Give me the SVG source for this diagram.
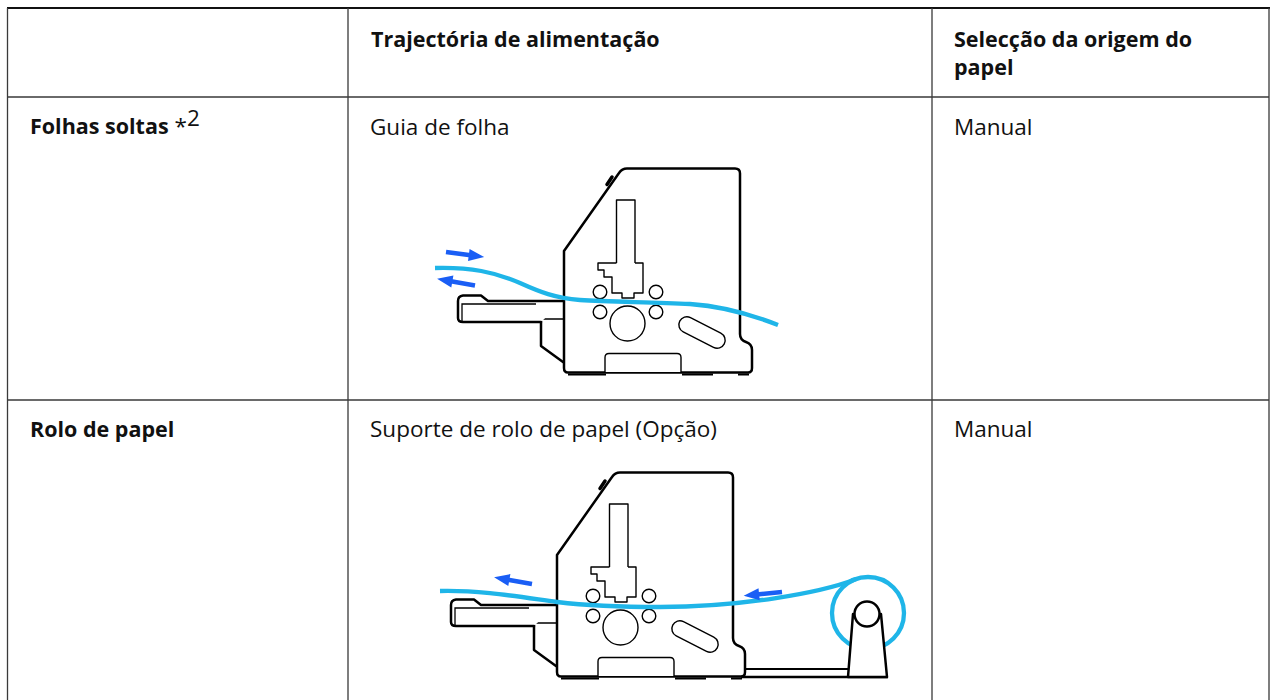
<svg xmlns="http://www.w3.org/2000/svg" width="1273" height="700" viewBox="0 0 1273 700">
<style>
.grid{stroke:#3a3a3a;stroke-width:1.3;fill:none}
.top{stroke:#111;stroke-width:2.2;fill:none}
.b{font-family:"Open Sans","Noto Sans","DejaVu Sans",sans-serif;font-weight:700;font-size:21.5px;fill:#111}
.r{font-family:"Open Sans","Noto Sans","DejaVu Sans",sans-serif;font-weight:400;font-size:22.5px;fill:#111}
.thk{stroke:#000;stroke-width:2.5;fill:#fff;stroke-linejoin:round;stroke-linecap:round}
.thn{stroke:#000;stroke-width:1.4;fill:#fff;stroke-linejoin:round}
.ln{stroke:#000;stroke-width:1.3;fill:none}
.paper{stroke:#1fb5e8;stroke-width:4.3;fill:none;stroke-linecap:butt}
.arr{fill:#1a5ef5}
</style>
<defs>
<path id="arrow" d="M0,-2.3 H23 V-6 L38.5,0 L23,6 V2.3 H0 Z"/>
<g id="printer">
<path class="thk" d="M541 321 V346 L563 362"/>
<path class="ln" d="M536 301 V322 M542 302 V319 H563"/>
<path class="thk" d="M563 301 H488 L481 295.5 H463 Q458 296 458 301 V318 Q458 322 463 322 H541"/>
<path class="ln" d="M536 304 H462 V322"/>
<path class="thk" d="M564 368 V251 L619 173 Q622 168.5 627 168.5 H735 Q740 168.5 740 173.5 V334 Q740 340 746 342 Q752 344 752 350 V368 Q752 372.5 748 372.5 H568 Q564 372.5 564 368 Z"/>
<path d="M612 177 L607 184.5" stroke="#000" stroke-width="3.5" stroke-linecap="round" fill="none"/>
<rect class="thn" x="616.5" y="200" width="18.5" height="83"/>
<polyline class="thn" points="616.5,263 598,263 598,270 604,270 604,277 612,277 612,293 622,293 622,298 634,298 634,293 643,293 643,263 635,263"/>
<circle class="thn" cx="600" cy="292" r="6.8"/>
<circle class="thn" cx="656" cy="292" r="6.8"/>
<circle class="thn" cx="600" cy="312" r="6.8"/>
<circle class="thn" cx="656" cy="312" r="6.8"/>
<circle class="thn" cx="627.5" cy="323.5" r="17.5"/>
<rect class="thn" x="-25" y="-8" width="50" height="16" rx="8" transform="translate(702 332.5) rotate(27)"/>
<path class="thn" d="M605 372 V357.5 Q605 353.5 609 353.5 H677 Q681 353.5 681 357.5 V372" fill="none"/>
<path d="M568 374.5 H606 M682 374.5 H713 M738 374.5 H749" stroke="#000" stroke-width="2" fill="none"/>
</g>
</defs>

<g id="table">
<path class="top" d="M7 8 H1270"/>
<path class="grid" d="M7.5 8 V700 M348 8 V700 M932 8 V700 M1269 8 V700 M7.5 97 H1269 M7.5 400 H1269"/>
</g>

<g id="header">
<text class="b" x="371" y="47">Trajectória de alimentação</text>
<text class="b" x="954" y="47">Selecção da origem do</text>
<text class="b" x="954" y="75">papel</text>
</g>

<g id="row-folhas">
<text class="b" x="30" y="134">Folhas soltas<tspan class="r" font-size="21"> *</tspan><tspan class="r" font-size="14" dy="-8">2</tspan></text>
<text class="r" x="370" y="135">Guia de folha</text>
<text class="r" x="954" y="135">Manual</text>
</g>

<g id="row-rolo">
<text class="b" x="30" y="437">Rolo de papel</text>
<text class="r" x="370" y="437">Suporte de rolo de papel (Opção)</text>
<text class="r" x="954" y="437">Manual</text>
</g>

<g id="printer-1">
<use href="#printer"/>
<path class="paper" d="M435 268 C470 267 495 272 520 283 C540 292 555 298 580 300 C610 302 650 302 690 304 C720 306 750 314 778 325"/>
<use href="#arrow" class="arr" transform="translate(446 252) rotate(7.5)"/>
<use href="#arrow" class="arr" transform="translate(475 285.5) rotate(190)"/>
</g>

<g id="printer-2">
<use href="#printer" transform="translate(-7 304)"/>
<path d="M744 669 H849" stroke="#000" stroke-width="1.8" fill="none"/>
<path d="M741 677 H888" stroke="#000" stroke-width="2.5" fill="none"/>
<path class="paper" d="M440 591 C480 590 520 597 557 602 C590 606 620 607 660 607 C740 607 820 593 855.7 579.2"/>
<circle cx="868" cy="613" r="36" class="paper"/>
<path class="thk" d="M848 677 L853 614 H881 L887 677 Z"/>
<circle class="thk" cx="867" cy="614" r="12.5"/>
<use href="#arrow" class="arr" transform="translate(532 584) rotate(190)"/>
<use href="#arrow" class="arr" transform="translate(782 592) rotate(174.3)"/>
</g>
</svg>
